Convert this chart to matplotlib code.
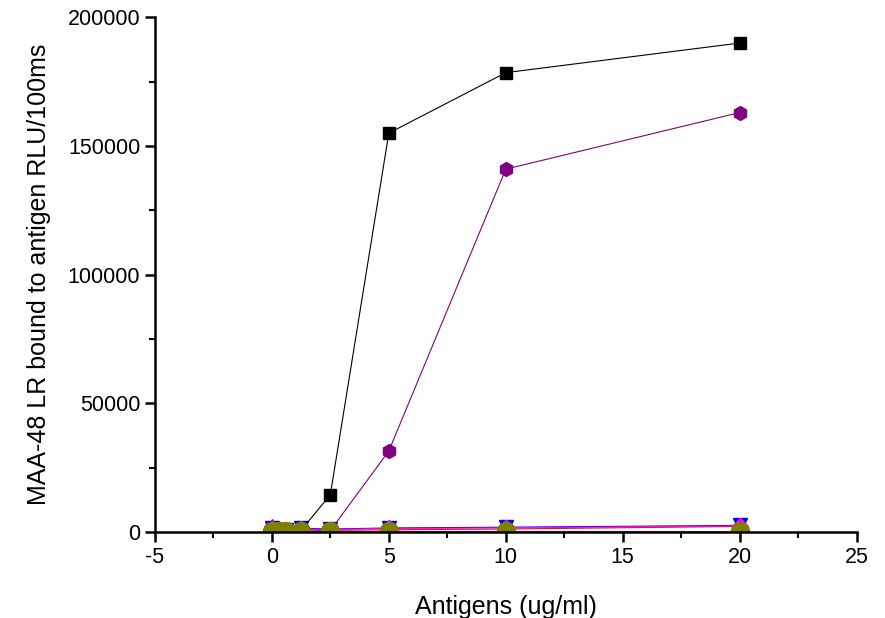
import matplotlib.pyplot as plt
from matplotlib.ticker import MultipleLocator

plt.rcParams['font.family'] = ['Liberation Sans', 'DejaVu Sans']
plt.rcParams['axes.unicode_minus'] = False

conc = [0, 0.3125, 0.625, 1.25, 2.5, 5, 10, 20]

black = [800, 600, 500, 700, 14500, 155000, 178500, 190000]
purple = [500, 400, 300, 300, 600, 31500, 141000, 163000]
red = [2500, 1200, 800, 900, 700, 900, 1200, 2200]
blue = [1500, 1000, 800, 1500, 1200, 1600, 1900, 2600]
magenta = [1200, 900, 700, 1200, 1000, 1400, 1600, 2400]
olive = [300, 300, 300, 300, 300, 300, 300, 300]

fig = plt.figure(figsize=(8.85, 6.18), dpi=100)
ax = fig.add_axes([0.175, 0.139, 0.793, 0.833])

ax.plot(conc, red, color='red', marker='^', markersize=10, lw=0.8)
ax.plot(conc, blue, color='blue', marker='v', markersize=10, lw=0.8)
ax.plot(conc, magenta, color='magenta', marker='D', markersize=8, lw=0.8)
ax.plot(conc, black, color='black', marker='s', markersize=8, lw=0.8)
ax.plot(conc, purple, color='purple', marker='h', markersize=10, lw=0.8)
ax.plot(conc, olive, color='olive', marker='o', markersize=13, lw=0.8)

ax.set_xlim(-5, 25)
ax.set_ylim(0, 200000)
ax.xaxis.set_major_locator(MultipleLocator(5))
ax.xaxis.set_minor_locator(MultipleLocator(2.5))
ax.yaxis.set_major_locator(MultipleLocator(50000))
ax.yaxis.set_minor_locator(MultipleLocator(25000))

for s in ['top', 'right']:
    ax.spines[s].set_visible(False)
for s in ['left', 'bottom']:
    ax.spines[s].set_linewidth(1.8)
ax.tick_params(which='major', direction='out', length=7, width=1.8, labelsize=15.5)
ax.tick_params(which='minor', direction='out', length=4, width=1.5)

ax.set_xlabel('Antigens (ug/ml)', fontsize=18, labelpad=20)
ax.set_ylabel('MAA-48 LR bound to antigen RLU/100ms', fontsize=18, labelpad=12)

fig.savefig('out.png', dpi=100)
